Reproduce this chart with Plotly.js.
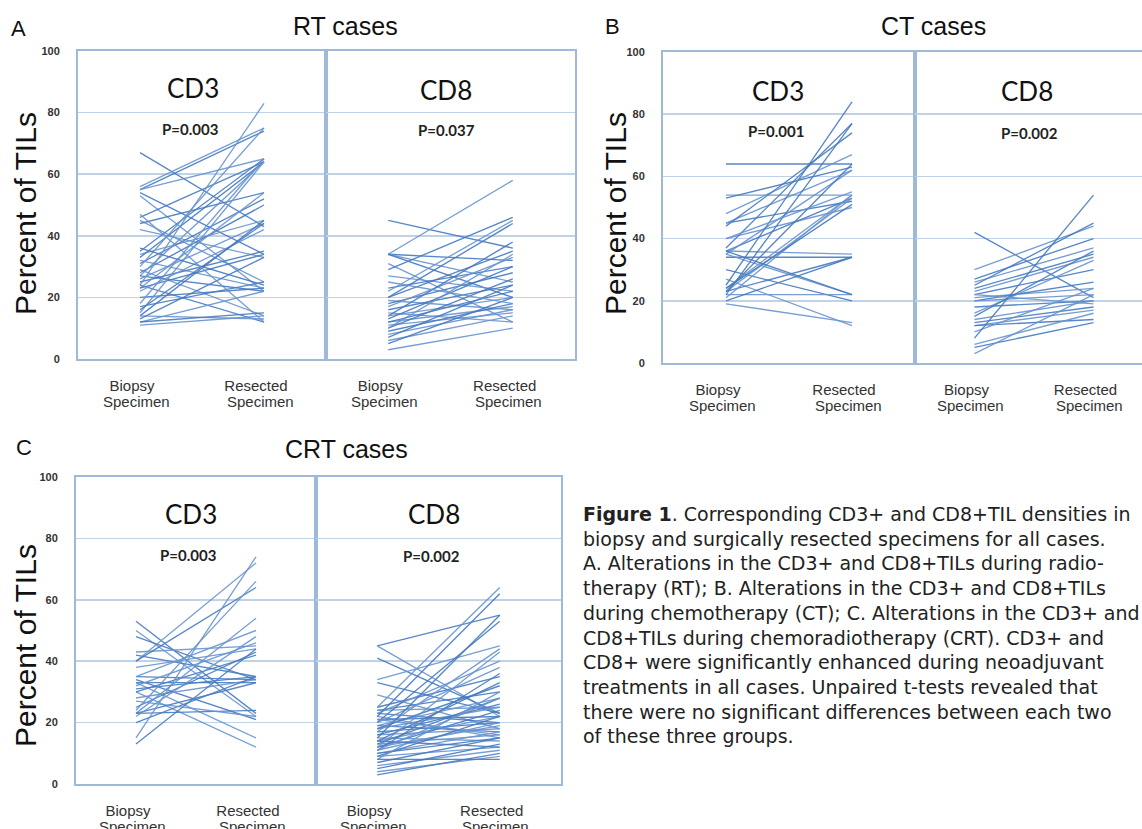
<!DOCTYPE html>
<html>
<head>
<meta charset="utf-8">
<script src="https://cdn.plot.ly/plotly-3.0.1.min.js"></script>
<style>
html,body{margin:0;padding:0;overflow:hidden;background:#fff;}
#chart{width:1180px;height:840px;}
</style>
</head>
<body>
<div id="chart"></div>
<script>
// ---------- DATA ----------
const categories = ['Biopsy', 'Resected'];
const secondLine = 'Specimen';
const markers = ['CD3', 'CD8'];
const panelLetters = ['A', 'B', 'C'];
const panelTitles = ['RT cases', 'CT cases', 'CRT cases'];
const pValues = ['P=0.003', 'P=0.037', 'P=0.001', 'P=0.002', 'P=0.003', 'P=0.002'];
const yTickVals = [0, 20, 40, 60, 80, 100];
const yTitle = 'Percent of TILs';

const rtCD3Biopsy   = [67,56,55,55,54,53,46,45,44,42,35,34,33,32,31,29,28,27,27,26,25,24,24,23,23,22,20,18,17,15,14,14,13,12,12,11,16,30,36,47];
const rtCD3Resected = [43,75,74,65,34,22,64,25,54,33,65,45,64,23,52,14,50,64,22,44,35,83,12,54,34,42,23,65,25,64,45,13,33,22,15,14,44,75,24,12];
const rtCD8Biopsy   = [45,34,34,34,34,31,29,27,23,22,20,19,18,17,16,15,14,14,13,12,12,11,10,10,9,8,7,6,5,3,20,25];
const rtCD8Resected = [36,58,32,25,20,12,46,22,30,45,35,16,28,33,24,12,38,20,30,17,22,15,26,34,18,16,24,14,20,10,44,18];
const ctCD3Biopsy   = [64,54,53,48,45,45,44,40,37,36,36,35,34,35,30,27,25,24,23,23,23,22,22,21,20,19,24,40,36];
const ctCD3Resected = [64,54,63,67,52,62,74,50,77,35,53,62,34,22,20,12,84,54,64,53,34,22,77,54,34,13,51,55,22];
const ctCD8Biopsy   = [42,30,27,26,24,23,22,21,20,20,18,16,15,14,13,12,12,10,8,6,5,3,25,22];
const ctCD8Resected = [21,44,40,37,35,34,30,24,26,22,20,33,36,20,18,17,14,24,54,16,13,22,45,19];
const crtCD3Biopsy   = [53,50,48,43,42,40,40,38,35,35,34,33,33,32,31,30,30,28,25,24,23,23,23,22,20,15,13,27];
const crtCD3Resected = [23,22,34,45,35,72,64,44,34,50,21,15,33,46,35,12,42,34,43,66,24,54,33,48,35,74,44,22];
const crtCD8Biopsy   = [45,45,41,34,33,29,25,25,24,24,23,23,22,22,21,20,20,19,19,18,18,17,17,16,16,15,15,14,14,13,13,12,12,11,11,10,10,9,9,8,7,6,5,4,3,12,14,21,8,11];
const crtCD8Resected = [55,22,23,45,23,18,35,64,30,25,20,40,62,15,22,38,53,28,17,25,32,44,20,18,26,14,55,22,33,16,28,19,24,20,36,17,15,12,22,30,15,11,13,9,10,43,12,16,8,28];

const captionLines = [
  '<b>Figure 1</b>. Corresponding CD3+ and CD8+TIL densities in',
  'biopsy and surgically resected specimens for all cases.',
  'A. Alterations in the CD3+ and CD8+TILs during radio-',
  'therapy (RT); B. Alterations in the CD3+ and CD8+TILs',
  'during chemotherapy (CT); C. Alterations in the CD3+ and',
  'CD8+TILs during chemoradiotherapy (CRT). CD3+ and',
  'CD8+ were significantly enhanced during neoadjuvant',
  'treatments in all cases. Unpaired t-tests revealed that',
  'there were no significant differences between each two',
  'of these three groups.'
];

// ---------- LAYOUT GEOMETRY (pixels) ----------
const W = 1180, H = 840;
const boxes = [
  {x0:78,  x1:326,  y0:51,  y1:359},
  {x0:326, x1:575,  y0:51,  y1:359},
  {x0:663, x1:915,  y0:52,  y1:363},
  {x0:915, x1:1153, y0:52,  y1:363},
  {x0:76,  x1:316,  y0:477, y1:784},
  {x0:316, x1:561,  y0:477, y1:784}
];
const series = [
  [rtCD3Biopsy, rtCD3Resected], [rtCD8Biopsy, rtCD8Resected],
  [ctCD3Biopsy, ctCD3Resected], [ctCD8Biopsy, ctCD8Resected],
  [crtCD3Biopsy, crtCD3Resected], [crtCD8Biopsy, crtCD8Resected]
];
const markerPos = [[193,88],[446,90],[778,91],[1027,91],[191,514],[434,514]];
const pPos = [[190,129],[446,130],[776,131],[1029,133],[188,555],[431,556]];
const letterPos = [[18,29],[612,27],[24,447]];
const titlePos = [[345,26],[933,26],[346,449]];
const yTitlePos = [[25,214],[615,214],[25,646]];

const px = v => v / W;
const py = v => 1 - v / H;

const ARIAL = 'Liberation Sans, Arial, sans-serif';
const CAL = 'Lato, Carlito, Calibri, sans-serif';
const borderColor = '#9fbad8';
const gridColor = '#c0d2e6';
const lineColors = ['rgba(70,122,192,0.9)', 'rgba(104,148,206,0.9)'];

const traces = [];
const layout = {
  width: W, height: H,
  margin: {l:0, r:0, t:0, b:0},
  paper_bgcolor: '#fff', plot_bgcolor: '#fff',
  showlegend: false,
  annotations: []
};

boxes.forEach((b, i) => {
  const n = i === 0 ? '' : String(i + 1);
  const xa = 'x' + n, ya = 'y' + n;
  const [bio, res] = series[i];
  bio.forEach((v, j) => {
    traces.push({
      x: categories, y: [v, res[j]],
      xaxis: xa, yaxis: ya,
      mode: 'lines', hoverinfo: 'skip',
      line: {color: lineColors[j % 2], width: 1.35}
    });
  });
  layout['xaxis' + n] = {
    domain: [px(b.x0), px(b.x1)], anchor: ya,
    type: 'category', categoryarray: categories, range: [-0.5, 1.5],
    showgrid: false, zeroline: false,
    showline: true, mirror: true, linecolor: borderColor, linewidth: 2,
    ticks: '', ticklen: 0, ticklabelstandoff: 12, ticklabelshift: -8,
    tickfont: {family: ARIAL, size: 15, color: '#333'},
    fixedrange: true
  };
  layout['yaxis' + n] = {
    domain: [py(b.y1), py(b.y0)], anchor: xa,
    range: [0, 100], tickmode: 'array', tickvals: yTickVals,
    showgrid: true, gridcolor: gridColor, gridwidth: 1.5,
    zeroline: false, showline: true, mirror: true,
    linecolor: borderColor, linewidth: 2,
    ticks: '', ticklen: 0, ticklabelstandoff: 14,
    showticklabels: i % 2 === 0,
    tickfont: {family: ARIAL, size: 11, color: '#333', weight: 'bold'},
    fixedrange: true
  };
  categories.forEach(c => {
    layout.annotations.push({
      text: secondLine, xref: xa, x: c, yref: ya + ' domain', y: 0,
      xanchor: 'center', yanchor: 'top', yshift: -32, xshift: -4,
      showarrow: false, font: {family: ARIAL, size: 15, color: '#333'}
    });
  });
  layout.annotations.push({
    text: markers[i % 2], xref: 'paper', yref: 'paper',
    x: px(markerPos[i][0]), y: py(markerPos[i][1]),
    xanchor: 'center', yanchor: 'middle', showarrow: false,
    font: {family: CAL, size: 26, color: '#111'}
  });
  layout.annotations.push({
    text: pValues[i], xref: 'paper', yref: 'paper',
    x: px(pPos[i][0]), y: py(pPos[i][1]),
    xanchor: 'center', yanchor: 'middle', showarrow: false,
    font: {family: CAL, size: 15, color: '#222', weight: 'bold'}
  });
});

panelLetters.forEach((L, k) => {
  layout.annotations.push({
    text: L, xref: 'paper', yref: 'paper',
    x: px(letterPos[k][0]), y: py(letterPos[k][1]),
    xanchor: 'center', yanchor: 'middle', showarrow: false,
    font: {family: ARIAL, size: 22, color: '#111'}
  });
  layout.annotations.push({
    text: panelTitles[k], xref: 'paper', yref: 'paper',
    x: px(titlePos[k][0]), y: py(titlePos[k][1]),
    xanchor: 'center', yanchor: 'middle', showarrow: false,
    font: {family: ARIAL, size: 25, color: '#111'}
  });
  layout.annotations.push({
    text: yTitle, xref: 'paper', yref: 'paper',
    x: px(yTitlePos[k][0]), y: py(yTitlePos[k][1]),
    xanchor: 'center', yanchor: 'middle', textangle: -90, showarrow: false,
    font: {family: ARIAL, size: 30, color: '#111'}
  });
});

layout.annotations.push({
  text: captionLines.join('<br>'), xref: 'paper', yref: 'paper',
  x: px(581), y: py(501),
  xanchor: 'left', yanchor: 'top', showarrow: false, align: 'left',
  font: {family: 'DejaVu Sans, sans-serif', size: 19, color: '#222'}
});

Plotly.newPlot('chart', traces, layout, {displayModeBar: false, staticPlot: true});
</script>
</body>
</html>
